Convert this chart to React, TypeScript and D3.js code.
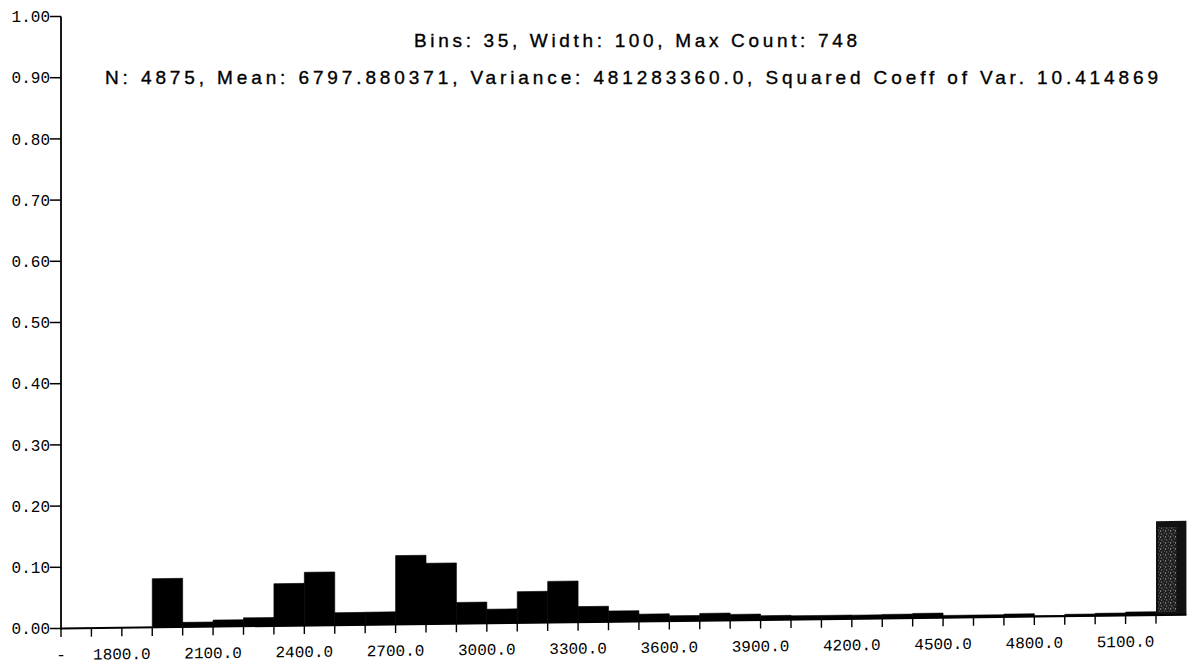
import React from "react";
import * as d3 from "d3";

// Histogram of observed values: 35 bins of width 100, plus underflow / overflow cells.
const N = 4875;
const BIN_WIDTH = 100;

const binStarts = [
  1700, 1800, 1900, 2000, 2100, 2200, 2300, 2400, 2500, 2600, 2700, 2800,
  2900, 3000, 3100, 3200, 3300, 3400, 3500, 3600, 3700, 3800, 3900, 4000,
  4100, 4200, 4300, 4400, 4500, 4600, 4700, 4800, 4900, 5000, 5100,
];
const binCounts = [
  0, 0, 388, 37, 52, 67, 336, 424, 99, 100, 548, 484,
  169, 112, 249, 328, 124, 86, 58, 42, 58, 47, 34, 30,
  30, 29, 32, 37, 18, 18, 23, 6, 15, 20, 27,
];

const underflowStart = 1600;
const underflowCount = 0;
const overflowStart = 5200;
const overflowCount = 748;

// Labelled x ticks ("-" marks the underflow cell)
const xLabelValues = [1600, 1800, 2100, 2400, 2700, 3000, 3300, 3600, 3900, 4200, 4500, 4800, 5100];
const xLabelTexts = ["-", "1800.0", "2100.0", "2400.0", "2700.0", "3000.0", "3300.0", "3600.0", "3900.0", "4200.0", "4500.0", "4800.0", "5100.0"];

const yTickValues = [0, 0.1, 0.2, 0.3, 0.4, 0.5, 0.6, 0.7, 0.8, 0.9, 1.0];

const titleLine1 = "Bins: 35, Width: 100, Max Count: 748";
const titleLine2 = "N: 4875, Mean: 6797.880371, Variance: 481283360.0, Squared Coeff of Var. 10.414869";

const W = 1188;
const H = 664;
const AXIS_X = 61;
const AXIS_Y = 628.5;

export default function App() {
  const x = d3.scaleLinear().domain([underflowStart, overflowStart]).range([AXIS_X, 1156]);
  const y = d3.scaleLinear().domain([0, 1]).range([AXIS_Y, 16.5]);
  const xTicks = d3.range(underflowStart, overflowStart + 1, BIN_WIDTH);
  const yFmt = d3.format(".2f");

  const bins = [
    { start: underflowStart, count: underflowCount },
    ...binStarts.map((s, i) => ({ start: s, count: binCounts[i] })),
  ];

  const ovX0 = x(overflowStart);
  const ovX1 = x(overflowStart + BIN_WIDTH);
  const ovTop = y(overflowCount / N);

  const mono = "'Liberation Mono', 'DejaVu Sans Mono', monospace";
  const sans = "'Liberation Sans', Arial, sans-serif";

  return (
    <svg
      width={W}
      height={H}
      viewBox={`0 0 ${W} ${H}`}
      style={{ position: "absolute", left: 0, top: 0, background: "#fff" }}
    >
      <defs>
        <pattern id="stipple" width="5" height="6" patternUnits="userSpaceOnUse">
          <rect width="5" height="6" fill="#1c1c1c" />
          <rect x="1" y="1" width="1" height="1" fill="#c8c8c8" />
          <rect x="3" y="3" width="1" height="1" fill="#9a9a9a" />
          <rect x="0" y="4" width="1" height="1" fill="#e0e0e0" />
          <rect x="4" y="0" width="1" height="1" fill="#777" />
        </pattern>
      </defs>
      <rect width={W} height={H} fill="#fff" />

      {/* title */}
      <g fontFamily={sans} fontSize={19} fill="#000" stroke="#000" strokeWidth={0.35}>
        <text x={414} y={46.5} textLength={443} lengthAdjust="spacing">
          {titleLine1}
        </text>
        <text x={105} y={83.5} textLength={1053} lengthAdjust="spacing">
          {titleLine2}
        </text>
      </g>

      {/* y axis */}
      <line x1={AXIS_X} x2={AXIS_X} y1={y(1)} y2={AXIS_Y + 1} stroke="#000" strokeWidth={1.8} />
      {yTickValues.map((v) => (
        <g key={v}>
          <line x1={50} x2={AXIS_X} y1={y(v)} y2={y(v)} stroke="#000" strokeWidth={1.5} />
          <text x={50} y={y(v)} dy="0.36em" textAnchor="end" fontFamily={mono} fontSize={16} fill="#000">
            {yFmt(v)}
          </text>
        </g>
      ))}

      {/* plotting area, drawn with the slight slope of the baseline */}
      <g transform={`translate(${AXIS_X},${AXIS_Y}) skewY(-0.7) translate(${-AXIS_X},${-AXIS_Y})`}>
        {bins.map((b) => (
          <rect
            key={b.start}
            x={x(b.start)}
            width={x(b.start + BIN_WIDTH) - x(b.start)}
            y={y(b.count / N)}
            height={AXIS_Y - y(b.count / N)}
            fill="#000"
            stroke={b.count > 0 ? "#000" : "none"}
            strokeWidth={0.6}
          />
        ))}

        {/* overflow cell */}
        <rect x={ovX0} width={ovX1 - ovX0} y={ovTop} height={AXIS_Y - ovTop} fill="#111" />
        <rect
          x={ovX0 + 2}
          width={(ovX1 - ovX0) * 0.6}
          y={ovTop + 6}
          height={AXIS_Y - ovTop - 9}
          fill="url(#stipple)"
        />

        <line x1={AXIS_X} x2={ovX1} y1={AXIS_Y} y2={AXIS_Y} stroke="#000" strokeWidth={2} />
        {xTicks.map((t) => (
          <line key={t} x1={x(t)} x2={x(t)} y1={AXIS_Y} y2={AXIS_Y + 8.5} stroke="#000" strokeWidth={1.4} />
        ))}
        {xLabelValues.map((v, i) => (
          <text
            key={v}
            x={x(v)}
            y={AXIS_Y + 31.5}
            textAnchor="middle"
            fontFamily={mono}
            fontSize={16}
            fill="#000"
          >
            {xLabelTexts[i]}
          </text>
        ))}
      </g>
    </svg>
  );
}
